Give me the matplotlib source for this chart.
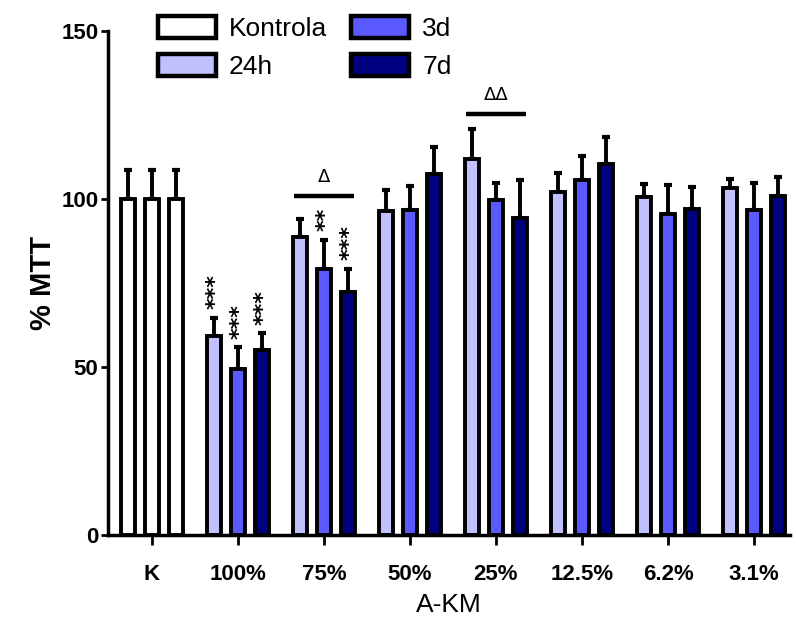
import matplotlib
matplotlib.use("Agg")
import matplotlib.pyplot as plt
import numpy as np
from matplotlib.patches import Patch

categories = ["K", "100%", "75%", "50%", "25%", "12.5%", "6.2%", "3.1%"]
series_names = ["24h", "3d", "7d"]
vals_24h = [100, 59.2, 88.8, 96.5, 112.0, 102.2, 100.6, 103.3]
vals_3d = [100, 49.3, 79.3, 96.6, 99.6, 105.8, 95.6, 96.6]
vals_7d = [100, 55.2, 72.3, 107.5, 94.3, 110.5, 97.0, 100.9]
err_24h = [8.5, 5.5, 5.2, 6.3, 8.9, 5.4, 4.0, 2.8]
err_3d = [8.5, 6.6, 8.6, 7.2, 5.1, 7.0, 8.5, 8.3]
err_7d = [8.5, 4.8, 6.9, 8.0, 11.3, 8.0, 6.6, 5.6]
stars = [(1, 0, "***"), (1, 1, "***"), (1, 2, "***"), (2, 1, "**"), (2, 2, "***")]
brackets = [(2, "\u0394", 101.0), (4, "\u0394\u0394", 125.2)]
legend_labels = ["Kontrola", "24h", "3d", "7d"]

colors = ["#C0C0FF", "#5A5AFF", "#000080"]
k_color = "white"

fig = plt.figure(figsize=(7.96, 6.18), dpi=100)
L, R, B, T = 108 / 796, 790 / 796, 1 - 535 / 618, 1 - 31 / 618
ax = fig.add_axes([L, B, R - L, T - B])

narrow = ["Liberation Sans Narrow", "Liberation Sans", "DejaVu Sans"]
arial = ["Liberation Sans", "DejaVu Sans"]
x = np.arange(len(categories))
off = 0.277
w = 0.165
lw = 2.8
series = [vals_24h, vals_3d, vals_7d]
errs = [err_24h, err_3d, err_7d]
for j in range(3):
    fc = [k_color] + [colors[j]] * (len(categories) - 1)
    xs = x + (j - 1) * off
    ax.bar(xs, series[j], width=w, color=fc, edgecolor="black", linewidth=lw, zorder=2)
    ax.errorbar(xs, series[j], yerr=[np.zeros(len(xs)), errs[j]], fmt="none",
                ecolor="black", elinewidth=2.8, capsize=2.6, capthick=3.0, zorder=1)

for (g, j, s) in stars:
    top = series[j][g] + errs[j][g]
    ax.text(x[g] + (j - 1) * off + 0.02, top + 2.5, s, rotation=90, ha="center", va="bottom",
            fontsize=16, fontweight="bold", fontfamily="DejaVu Sans")

for (g, s, yv) in brackets:
    ax.plot([x[g] - off - 0.07, x[g] + off + 0.07], [yv, yv], color="black", lw=3.2,
            solid_capstyle="butt")
    ax.text(x[g], yv + 3, s, ha="center", va="bottom", fontsize=13, fontfamily="DejaVu Sans")

ax.set_xlim((108 - 152) / 86, (790 - 152) / 86)
ax.set_ylim(0, 150)
ax.set_yticks([0, 50, 100, 150])
ax.set_xticks(x)
ax.set_xticklabels(categories)
for sp in ["top", "right"]:
    ax.spines[sp].set_visible(False)
for sp in ["left", "bottom"]:
    ax.spines[sp].set_linewidth(2.5)
ax.tick_params(axis="both", direction="out", width=2, length=5, pad=2)
ax.tick_params(axis="x", pad=14, length=7)
for lab in ax.get_xticklabels() + ax.get_yticklabels():
    lab.set_fontfamily(narrow)
    lab.set_fontweight("bold")
    lab.set_fontsize(16)

ax.set_ylabel("% MTT", fontsize=21, fontweight="bold", fontfamily=arial, labelpad=3)
ax.set_xlabel("A-KM", fontsize=19, fontfamily=narrow, labelpad=6)

fills = ["white"] + colors
handles = [Patch(facecolor=fc, edgecolor="black", linewidth=3.2, label=lab)
           for fc, lab in zip(fills, legend_labels)]
leg = fig.legend(handles=handles, ncol=2, loc="upper left",
                 bbox_to_anchor=(134 / 796, 1 + 8 / 618),
                 frameon=False, prop={"family": arial, "size": 19},
                 handlelength=2.2, handleheight=0.9, columnspacing=0.9, handletextpad=0.5,
                 labelspacing=0.5)

fig.savefig("out.png", dpi=100)
